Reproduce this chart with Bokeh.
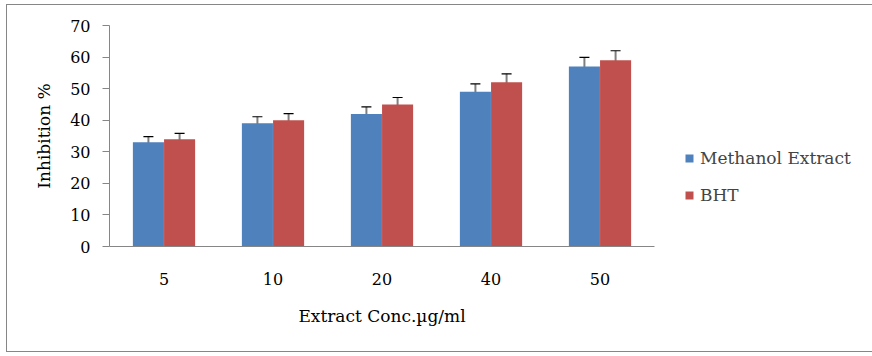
from bokeh.plotting import figure
from bokeh.models import ColumnDataSource, Whisker, TeeHead, FixedTicker, Legend, LegendItem, FactorRange
from bokeh.transform import dodge
from bokeh.embed import file_html
from bokeh.resources import INLINE

categories = ["5", "10", "20", "40", "50"]
methanol = [33, 39, 42, 49, 57]
methanol_err = [1.8, 2.1, 2.2, 2.5, 2.9]
bht = [34, 40, 45, 52, 59]
bht_err = [1.8, 2.1, 2.2, 2.7, 3.0]
y_ticks = [0, 10, 20, 30, 40, 50, 60, 70]

FONT = "DejaVu Serif"
AXIS = "#868686"

src = ColumnDataSource(dict(
    cat=categories,
    m=methanol, m_up=[v + e for v, e in zip(methanol, methanol_err)], m_lo=[v - e for v, e in zip(methanol, methanol_err)],
    b=bht, b_up=[v + e for v, e in zip(bht, bht_err)], b_lo=[v - e for v, e in zip(bht, bht_err)],
))

p = figure(x_range=FactorRange(*categories), y_range=(0, 70), width=862, height=346,
           frame_width=545, frame_height=221,
           output_backend="svg", toolbar_location=None,
           min_border_left=102, min_border_right=215, min_border_top=20, min_border_bottom=105)
p.styles = {"margin-left": "6px", "margin-top": "4px", "border": "1px solid #868686"}
p.outline_line_color = None
p.xgrid.visible = False
p.ygrid.visible = False

off = 0.143
w = 0.285
r1 = p.vbar(x=dodge("cat", -off, range=p.x_range), top="m", width=w, source=src,
            fill_color="#4F81BD", line_color=None)
r2 = p.vbar(x=dodge("cat", off, range=p.x_range), top="b", width=w, source=src,
            fill_color="#C0504D", line_color=None)

for base, up, lo in [(-off, "m_up", "m_lo"), (off, "b_up", "b_lo")]:
    wk = Whisker(base=dodge("cat", base, range=p.x_range), upper=up, lower=lo, source=src,
                 line_color="black", line_alpha=0.5, line_width=2,
                 upper_head=TeeHead(size=10, line_color="black", line_width=1.2),
                 lower_head=TeeHead(size=10, line_color="black", line_width=1.2))
    p.add_layout(wk)

p.yaxis.ticker = FixedTicker(ticks=y_ticks)
p.yaxis.minor_tick_line_color = None
p.yaxis.major_tick_out = 7
p.yaxis.major_tick_in = 0
p.yaxis.major_label_standoff = 12
p.yaxis.axis_line_color = AXIS
p.yaxis.major_tick_line_color = AXIS
p.yaxis.axis_label = "Inhibition %"
p.yaxis.axis_label_standoff = 13

p.xaxis.major_tick_line_color = None
p.xaxis.minor_tick_line_color = None
p.xaxis.axis_line_color = AXIS
p.xaxis.major_label_standoff = 20
p.xaxis.axis_label = "Extract Conc.\u00b5g/ml"
p.xaxis.axis_label_standoff = 18

for ax in (p.xaxis, p.yaxis):
    ax.major_label_text_font = FONT
    ax.major_label_text_font_size = "16px"
    ax.major_label_text_color = "black"
    ax.axis_label_text_font = FONT
    ax.axis_label_text_font_size = "17px"
    ax.axis_label_text_font_style = "normal"
    ax.axis_label_text_color = "black"

legend = Legend(items=[LegendItem(label="Methanol Extract", renderers=[r1]),
                       LegendItem(label="BHT", renderers=[r2])],
                location=(30, 41), orientation="vertical")
legend.border_line_color = None
legend.background_fill_alpha = 0
legend.padding = 0
legend.margin = 0
legend.glyph_width = 10
legend.glyph_height = 10
legend.label_standoff = 6
legend.spacing = 17
legend.label_text_font = FONT
legend.label_text_font_size = "17px"
p.add_layout(legend, "right")

open("out.html", "w").write(file_html(p, INLINE))
